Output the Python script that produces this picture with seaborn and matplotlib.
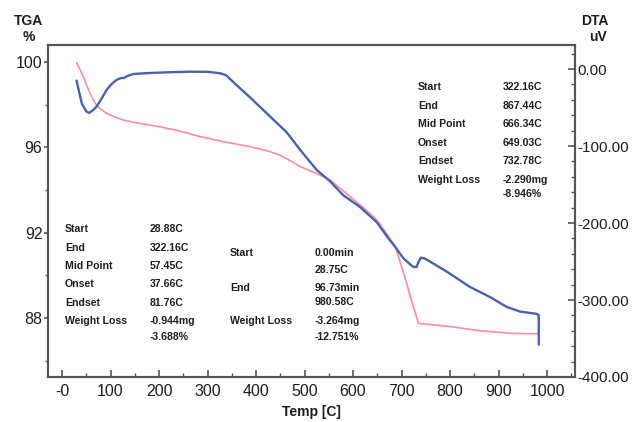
import matplotlib
matplotlib.use("Agg")
import matplotlib.pyplot as plt
import seaborn as sns
import numpy as np
import pandas as pd
from matplotlib.ticker import FixedLocator, FuncFormatter

# ---------------- data ----------------
tga_temp = [30, 37, 44, 51, 58, 64, 71, 80, 92, 108, 126, 161, 200, 229, 260, 285, 332, 388,
            420, 449, 470, 491, 520, 553, 594, 620, 649, 669, 687, 697, 711, 718, 735, 793,
            862, 930, 981]
tga_pct = [99.97, 99.65, 99.3, 98.9, 98.53, 98.25, 97.98, 97.78, 97.6, 97.43, 97.28, 97.12,
           96.97, 96.83, 96.66, 96.5, 96.27, 96.03, 95.86, 95.64, 95.38, 95.1, 94.82, 94.47,
           93.69, 93.2, 92.6, 91.97, 91.34, 90.64, 89.6, 89.0, 87.75, 87.62, 87.4, 87.28,
           87.26]

dta_temp = [30, 36, 41, 50, 56, 63, 71, 82, 92, 103, 113, 120, 128, 135, 147, 170, 195, 230,
            264, 300, 326, 338, 350, 367, 388, 422, 463, 491, 525, 553, 580, 614, 649, 673,
            687, 704, 724, 731, 734, 740, 748, 793, 841, 882, 917, 944, 979, 983, 983]
dta_uv = [-15, -32, -45, -55, -57, -54, -49, -38, -27, -19, -14, -12, -11.5, -9, -6.5, -5.5,
          -4.8, -4, -3.5, -3.6, -5.5, -8, -15, -25, -37, -57.5, -82, -105, -131, -146,
          -164, -179, -199, -220, -231, -246, -257, -257, -252, -245, -246, -263, -283,
          -296, -309, -315, -318, -320, -358]

x_ticks = [0, 100, 200, 300, 400, 500, 600, 700, 800, 900, 1000]
x_tick_labels = ["-0", "100", "200", "300", "400", "500", "600", "700", "800", "900", "1000"]
tga_ticks = [88, 92, 96, 100]
dta_ticks = [0, -100, -200, -300, -400]

block_right_labels = ["Start", "End", "Mid Point", "Onset", "Endset", "Weight Loss", ""]
block_right_values = ["322.16C", "867.44C", "666.34C", "649.03C", "732.78C", "-2.290mg", "-8.946%"]
block_left_labels = ["Start", "End", "Mid Point", "Onset", "Endset", "Weight Loss", ""]
block_left_values = ["28.88C", "322.16C", "57.45C", "37.66C", "81.76C", "-0.944mg", "-3.688%"]
block_mid_labels = ["Start", "", "End", "", "Weight Loss", ""]
block_mid_values = ["0.00min", "28.75C", "96.73min", "980.58C", "-3.264mg", "-12.751%"]

# ---------------- style ----------------
sns.set_style("white")
plt.rcParams["font.family"] = ["Liberation Sans", "DejaVu Sans"]
plt.rcParams["axes.unicode_minus"] = False

W, H = 633, 422
fig = plt.figure(figsize=(W / 100, H / 100), dpi=100)
fig.patch.set_facecolor("white")
ax = fig.add_axes([48 / W, 1 - 377 / H, (575 - 48) / W, (377 - 45) / H])
ax2 = ax.twinx()

pink = "#f98ea3"
blue = "#4a62a8"
txt = "#1e1e1e"

df_tga = pd.DataFrame({"temp": tga_temp, "tga": tga_pct})
df_dta = pd.DataFrame({"temp": dta_temp, "dta": dta_uv})
sns.lineplot(data=df_tga, x="temp", y="tga", ax=ax, sort=False, estimator=None,
             color=pink, linewidth=1.2)
sns.lineplot(data=df_dta, x="temp", y="dta", ax=ax2, sort=False, estimator=None,
             color=blue, linewidth=1.7)

ax.set_xlim(-28.9, 1057.7)
ax.set_ylim(85.234, 100.797)
ax2.set_ylim(-400, 31.2)

ax.set_xlabel("")
ax.set_ylabel("")
ax2.set_ylabel("")

spine_c = "#555555"
for a in (ax, ax2):
    for s in a.spines.values():
        s.set_color(spine_c)
        s.set_linewidth(1.5)
        s.set_visible(True)

ax.xaxis.set_major_locator(FixedLocator(x_ticks))
ax.set_xticklabels(x_tick_labels)
ax.xaxis.set_minor_locator(FixedLocator(list(range(50, 1051, 100))))
ax.tick_params(axis="x", which="major", direction="in", length=5, width=1.2,
               colors=spine_c, labelcolor=txt, labelsize=11.5, pad=5, bottom=True, top=False)
ax.tick_params(axis="x", which="minor", direction="in", length=3, width=1.0,
               colors=spine_c, bottom=True, top=False)

ax.yaxis.set_major_locator(FixedLocator(tga_ticks))
ax.yaxis.set_major_formatter(FuncFormatter(lambda v, p: f"{v:.0f}"))
ax.yaxis.set_minor_locator(FixedLocator([86, 90, 94, 98]))
ax.tick_params(axis="y", which="major", direction="out", length=3, width=1.2,
               colors=spine_c, labelcolor=txt, labelsize=11.5, pad=1, left=True)
ax.tick_params(axis="y", which="minor", direction="out", length=2.5, width=1.0,
               colors=spine_c, left=True)

ax2.yaxis.set_major_locator(FixedLocator(dta_ticks))
ax2.yaxis.set_major_formatter(FuncFormatter(lambda v, p: f"{v:.2f}"))
ax2.yaxis.set_minor_locator(FixedLocator(list(range(-380, 31, 20))))
ax2.tick_params(axis="y", which="major", direction="in", length=5, width=1.2,
                colors=spine_c, labelcolor=txt, labelsize=11, pad=1.5, right=True)
ax2.tick_params(axis="y", which="minor", direction="in", length=3, width=1.0,
                colors=spine_c, right=True)


def ftext(x, y, s, **kw):
    fig.text(x / W, 1 - y / H, s, va="center", color=txt, **kw)


ftext(28, 21, "TGA", ha="center", fontsize=10, fontweight="bold")
ftext(29, 37, "%", ha="center", fontsize=10, fontweight="bold")
ftext(595, 21, "DTA", ha="center", fontsize=10, fontweight="bold")
ftext(598, 37, "uV", ha="center", fontsize=10, fontweight="bold")
ftext(311, 412, "Temp [C]", ha="center", fontsize=10, fontweight="bold")

ann = dict(ha="left", fontsize=7.6, fontweight="bold")
for lab, val, y in zip(block_right_labels, block_right_values, [87, 106, 124, 143, 161, 180, 194]):
    ftext(418, y, lab, **ann)
    ftext(503, y, val, **ann)
for lab, val, y in zip(block_left_labels, block_left_values, [229, 248, 266, 284, 303, 321, 337]):
    ftext(65, y, lab, **ann)
    ftext(150, y, val, **ann)
for lab, val, y in zip(block_mid_labels, block_mid_values, [253, 270, 288, 302, 321, 337]):
    ftext(230, y, lab, **ann)
    ftext(315, y, val, **ann)

fig.savefig("out.png", dpi=100, facecolor="white")
